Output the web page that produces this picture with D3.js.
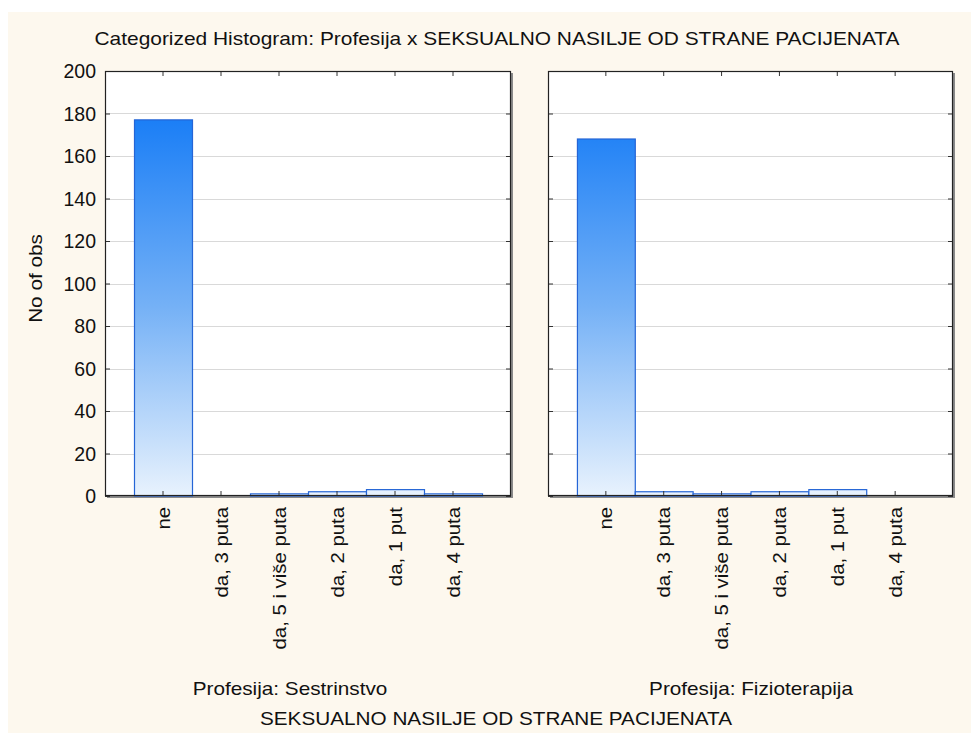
<!DOCTYPE html>
<html>
<head>
<meta charset="utf-8">
<script src="https://cdn.jsdelivr.net/npm/d3@7"></script>
<style>
  html, body { margin: 0; padding: 0; background: #ffffff; }
  svg { display: block; }
  text { font-family: "Liberation Sans", Arial, sans-serif; fill: #111; }
</style>
</head>
<body>
<svg id="chart" width="971" height="733"></svg>
<script>
// Answer categories (x axis), same order in both panels
const categories = ["ne", "da, 3 puta", "da, 5 i više puta", "da, 2 puta", "da, 1 put", "da, 4 puta"];
// Panel labels
const panels = ["Profesija: Sestrinstvo", "Profesija: Fizioterapija"];
// Counts per category for each profession
const sestrinstvo = [177, 0, 1, 2, 3, 1];
const fizioterapija = [168, 2, 1, 2, 3, 0];
// Y axis ticks
const yTicks = [0, 20, 40, 60, 80, 100, 120, 140, 160, 180, 200];

const title = "Categorized Histogram: Profesija x SEKSUALNO NASILJE OD STRANE PACIJENATA";
const xTitle = "SEKSUALNO NASILJE OD STRANE PACIJENATA";
const yTitle = "No of obs";

const svg = d3.select("#chart");
const W = 971, H = 733;

// Widen glyphs a little along the text direction (the labels use a wide, short face)
function stretch(sel, factor) {
  sel.each(function () {
    const len = this.getComputedTextLength();
    d3.select(this).attr("textLength", len * factor).attr("lengthAdjust", "spacingAndGlyphs");
  });
}

// Background panel
svg.append("rect").attr("x", 0).attr("y", 0).attr("width", W).attr("height", H).attr("fill", "#ffffff");
svg.append("rect").attr("x", 8).attr("y", 12).attr("width", W - 8).attr("height", H - 12).attr("fill", "#fdf8ee");

const plotTop = 71, plotBottom = 496;
const y = d3.scaleLinear().domain([0, 200]).range([plotBottom, plotTop]);

const defs = svg.append("defs");
const grad = defs.append("linearGradient")
  .attr("id", "barFill").attr("gradientUnits", "userSpaceOnUse")
  .attr("x1", 0).attr("y1", y(178)).attr("x2", 0).attr("y2", plotBottom);
grad.append("stop").attr("offset", "0%").attr("stop-color", "#1a7ef6");
grad.append("stop").attr("offset", "50%").attr("stop-color", "#75b1f6");
grad.append("stop").attr("offset", "100%").attr("stop-color", "#e8f2fd");

const panelDefs = [
  { label: panels[0], values: sestrinstvo, x0: 105, x1: 511, lx: 290 },
  { label: panels[1], values: fizioterapija, x0: 548, x1: 953, lx: 751 }
];

panelDefs.forEach((p) => {
  const x = d3.scaleBand().domain(categories).range([p.x0, p.x1])
    .paddingInner(0).paddingOuter(0.5);
  const g = svg.append("g");

  // shadow + plot area
  g.append("rect").attr("x", p.x0 + 2).attr("y", plotTop + 2)
    .attr("width", p.x1 - p.x0).attr("height", plotBottom - plotTop).attr("fill", "#8a8a8a");
  g.append("rect").attr("x", p.x0).attr("y", plotTop)
    .attr("width", p.x1 - p.x0).attr("height", plotBottom - plotTop).attr("fill", "#ffffff");

  // gridlines
  g.append("g").selectAll("line").data(yTicks.filter(t => t > 0 && t < 200)).join("line")
    .attr("x1", p.x0).attr("x2", p.x1)
    .attr("y1", d => Math.round(y(d)) + 0.5).attr("y2", d => Math.round(y(d)) + 0.5)
    .attr("stroke", "#d9d9d9").attr("stroke-width", 1);

  // bars
  const data = categories.map((c, i) => ({ c, v: p.values[i] })).filter(d => d.v > 0);
  g.append("g").selectAll("rect").data(data).join("rect")
    .attr("x", d => x(d.c) + 0.5)
    .attr("y", d => y(d.v))
    .attr("width", x.bandwidth())
    .attr("height", d => y(0) - y(d.v))
    .attr("fill", "url(#barFill)")
    .attr("stroke", "#2565d6").attr("stroke-width", 1.2);

  // inner ticks on bottom and top edges
  const xb = d3.axisBottom(x).tickSize(-5).tickFormat("");
  const xt = d3.axisTop(x).tickSize(-5).tickFormat("");
  g.append("g").attr("transform", `translate(0,${plotBottom})`).call(xb)
    .call(a => a.select(".domain").remove())
    .selectAll("line").attr("stroke", "#333");
  g.append("g").attr("transform", `translate(0,${plotTop})`).call(xt)
    .call(a => a.select(".domain").remove())
    .selectAll("line").attr("stroke", "#333");

  // inner ticks on left and right edges
  const yl = d3.axisLeft(y).tickValues(yTicks).tickSize(-5).tickFormat("");
  const yr = d3.axisRight(y).tickValues(yTicks).tickSize(-5).tickFormat("");
  g.append("g").attr("transform", `translate(${p.x0},0)`).call(yl)
    .call(a => a.select(".domain").remove())
    .selectAll("line").attr("stroke", "#333");
  g.append("g").attr("transform", `translate(${p.x1},0)`).call(yr)
    .call(a => a.select(".domain").remove())
    .selectAll("line").attr("stroke", "#333");

  // frame
  g.append("rect").attr("x", p.x0 + 0.5).attr("y", plotTop + 0.5)
    .attr("width", p.x1 - p.x0 - 1).attr("height", plotBottom - plotTop - 1)
    .attr("fill", "none").attr("stroke", "#222").attr("stroke-width", 1.2);

  // rotated category labels
  g.append("g").selectAll("text").data(categories).join("text")
    .attr("transform", d => `translate(${x(d) + x.bandwidth() / 2 + 6.5},${plotBottom + 11}) rotate(-90)`)
    .attr("text-anchor", "end")
    .style("font-size", "18px")
    .text(d => d)
    .call(stretch, 1.13);

  // panel label
  svg.append("text")
    .attr("x", p.lx).attr("y", 695)
    .attr("text-anchor", "middle").style("font-size", "18.5px")
    .text(p.label)
    .call(stretch, 1.12);
});

// y tick labels on the left panel
svg.append("g").selectAll("text").data(yTicks).join("text")
  .attr("x", 96).attr("y", d => y(d) + 7)
  .attr("text-anchor", "end").style("font-size", "19.5px")
  .text(d => d);

// y title
svg.append("text")
  .attr("transform", `translate(42,${(plotTop + plotBottom) / 2 - 5}) rotate(-90)`)
  .attr("text-anchor", "middle").style("font-size", "18.5px")
  .text(yTitle)
  .call(stretch, 1.12);

// chart title
svg.append("text")
  .attr("x", 497).attr("y", 45)
  .attr("text-anchor", "middle").style("font-size", "18.5px")
  .text(title)
  .attr("textLength", 805).attr("lengthAdjust", "spacingAndGlyphs");

// x title
svg.append("text")
  .attr("x", 496).attr("y", 725)
  .attr("text-anchor", "middle").style("font-size", "18.5px")
  .text(xTitle)
  .call(stretch, 1.12);
</script>
</body>
</html>
